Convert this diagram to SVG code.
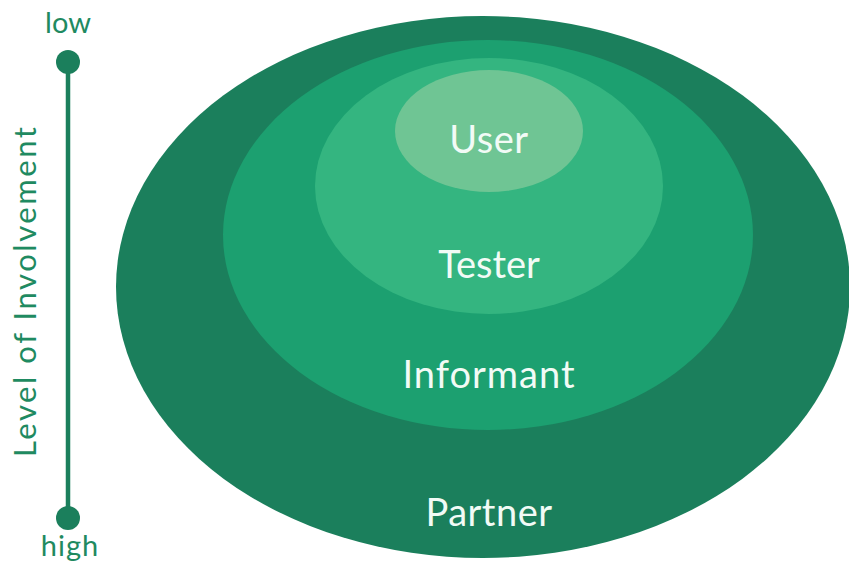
<svg xmlns="http://www.w3.org/2000/svg" width="849" height="567" viewBox="0 0 849 567">
<style>
.lbl{font-family:Lato,"Open Sans","Liberation Sans",sans-serif;fill:#f2fbf6;text-anchor:middle;font-size:38px}
.axis{font-family:Lato,"Open Sans","Liberation Sans",sans-serif;fill:#1f8a61;text-anchor:middle}
</style>
<rect width="849" height="567" fill="#ffffff"/>
<g id="partner">
<ellipse cx="483" cy="287" rx="367" ry="271" fill="#1b7f5c"/>
<text class="lbl" x="489" y="526" letter-spacing="0.5">Partner</text>
</g>
<g id="informant">
<ellipse cx="488" cy="235" rx="265" ry="195" fill="#1ca070"/>
<text class="lbl" x="489" y="388" letter-spacing="1">Informant</text>
</g>
<g id="tester">
<ellipse cx="489" cy="186" rx="174" ry="128" fill="#34b580"/>
<text class="lbl" x="489" y="278">Tester</text>
</g>
<g id="user">
<ellipse cx="489" cy="131" rx="94" ry="61" fill="#6fc594"/>
<text class="lbl" x="489" y="153" letter-spacing="0.5">User</text>
</g>
<g id="axis">
<line x1="68" y1="62" x2="68" y2="518" stroke="#1b7f5c" stroke-width="4.5"/>
<circle cx="68" cy="62" r="12" fill="#1b7f5c"/>
<circle cx="68" cy="518" r="12" fill="#1b7f5c"/>
<text class="axis" x="68" y="33" font-size="29">low</text>
<text class="axis" x="70" y="556" font-size="29" letter-spacing="1">high</text>
<text class="axis" x="0" y="0" font-size="31" textLength="330" lengthAdjust="spacing" transform="translate(36 292) rotate(-90)">Level of Involvement</text>
</g>
</svg>
